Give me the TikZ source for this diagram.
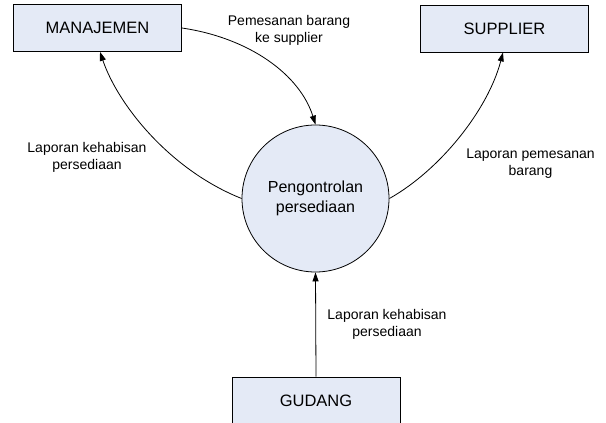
\documentclass[tikz,border=0pt]{standalone}
\usepackage{fontspec}
\setmainfont{Liberation Sans}
\usetikzlibrary{arrows.meta}
\definecolor{boxfill}{HTML}{E4EAF6}
\begin{document}
\begin{tikzpicture}[x=1pt,y=-1pt,
  entity/.style={draw=black,line width=0.8pt,fill=boxfill,minimum width=168pt,minimum height=47pt,inner sep=0pt,font=\fontsize{16.5}{19}\selectfont},
  proc/.style={draw=black,line width=0.8pt,fill=boxfill,circle,minimum size=147pt,inner sep=0pt,align=center,font=\fontsize{16}{20}\selectfont},
  flow/.style={line width=0.8pt,-{Triangle[length=9pt,width=6pt]}},
  lbl/.style={align=center,inner sep=0pt,font=\fontsize{14}{17}\selectfont}]
\useasboundingbox (0,0) rectangle (606,423);
\node[entity] (man) at (97.5,28) {MANAJEMEN};
\node[entity] (sup) at (504.5,28.5) {SUPPLIER};
\node[entity] (gud) at (316,400.5) {GUDANG};
\node[proc] (p) at (315.5,198.5) {Pengontrolan\\persediaan};
\draw[flow] (man.east) .. controls (250,38) and (300,75) .. (p.north);
\draw[flow] (p.west) .. controls (170,170) and (118,105) .. ([xshift=2.5pt]man.south);
\draw[flow] (p.east) .. controls (440,170) and (488,110) .. ([xshift=-1.5pt]sup.south);
\draw[flow] (gud.north) -- (p.south);
\node[lbl] (l1) at (289,30) {Pemesanan barang\\ke supplier};
\node[lbl] (l2) at (87,157) {Laporan kehabisan\\persediaan};
\node[lbl] (l3) at (530.5,164) {Laporan pemesanan\\barang};
\node[lbl] (l4) at (387,324) {Laporan kehabisan\\persediaan};
\end{tikzpicture}
\end{document}
